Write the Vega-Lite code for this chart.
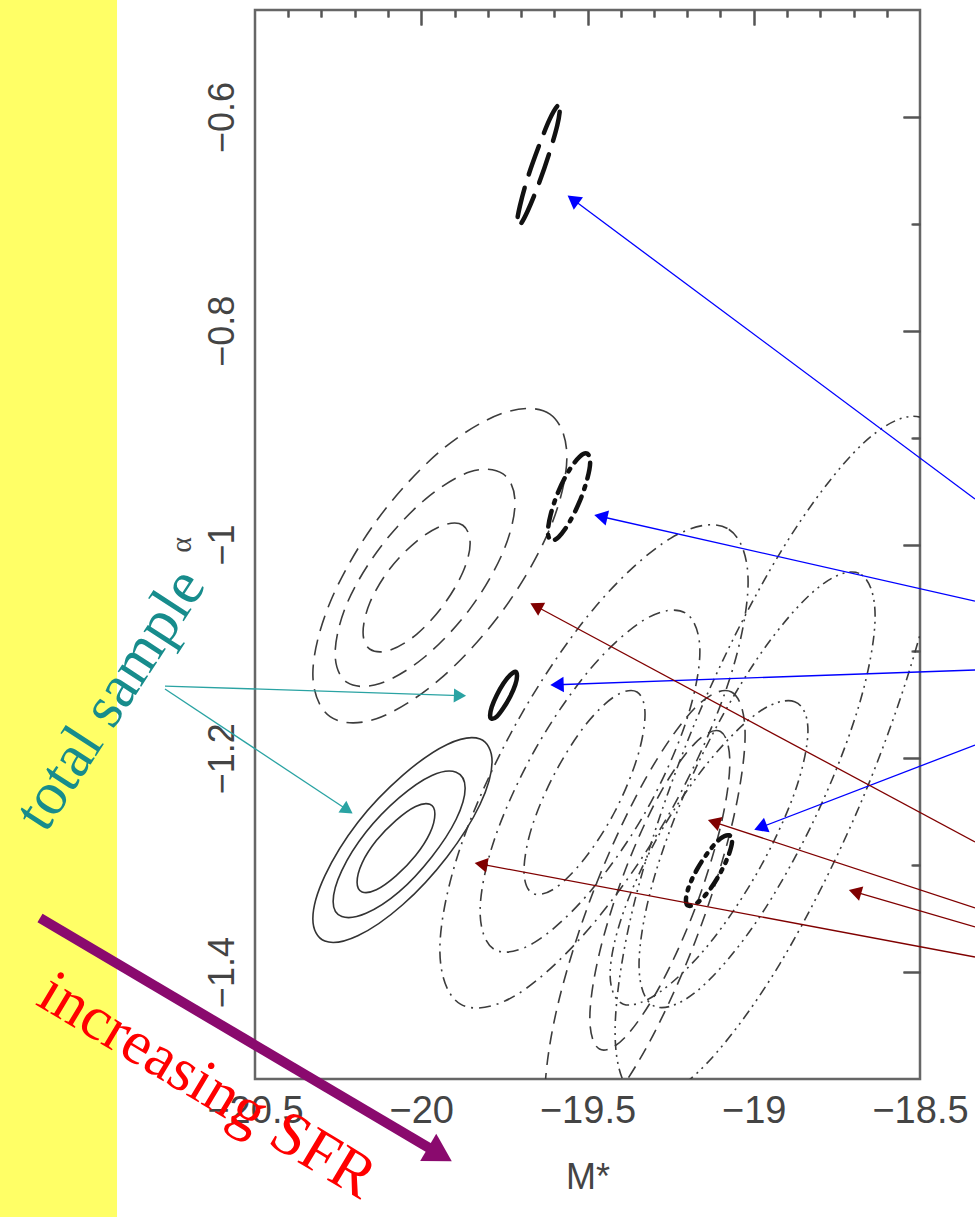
{
  "$schema": "https://vega.github.io/schema/vega-lite/v6.json",
  "width": 665,
  "height": 1069,
  "autosize": "none",
  "padding": {"left": 255, "top": 10, "right": 55, "bottom": 138},
  "background": "white",
  "config": {
    "view": {"stroke": "#666", "strokeWidth": 2.5},
    "axis": {"grid": false, "domain": false, "labelFont": "Liberation Sans", "titleFont": "Liberation Sans", "labelColor": "#444", "titleColor": "#444", "tickColor": "#555", "tickWidth": 2}
  },
  "datasets": {
    "ell": [
      {"c":"S1","g":"S","o":0,"x":-19.787,"y":-1.203},{"c":"S1","g":"S","o":1,"x":-19.823,"y":-1.182},{"c":"S1","g":"S","o":2,"x":-19.922,"y":-1.187},{"c":"S1","g":"S","o":3,"x":-20.056,"y":-1.216},{"c":"S1","g":"S","o":4,"x":-20.191,"y":-1.260},{"c":"S1","g":"S","o":5,"x":-20.290,"y":-1.310},{"c":"S1","g":"S","o":6,"x":-20.326,"y":-1.350},{"c":"S1","g":"S","o":7,"x":-20.290,"y":-1.371},{"c":"S1","g":"S","o":8,"x":-20.191,"y":-1.366},{"c":"S1","g":"S","o":9,"x":-20.056,"y":-1.337},{"c":"S1","g":"S","o":10,"x":-19.922,"y":-1.292},{"c":"S1","g":"S","o":11,"x":-19.823,"y":-1.243},
      {"c":"S2","g":"S","o":0,"x":-19.868,"y":-1.228},{"c":"S2","g":"S","o":1,"x":-19.895,"y":-1.213},{"c":"S2","g":"S","o":2,"x":-19.968,"y":-1.216},{"c":"S2","g":"S","o":3,"x":-20.067,"y":-1.237},{"c":"S2","g":"S","o":4,"x":-20.166,"y":-1.269},{"c":"S2","g":"S","o":5,"x":-20.239,"y":-1.305},{"c":"S2","g":"S","o":6,"x":-20.265,"y":-1.334},{"c":"S2","g":"S","o":7,"x":-20.239,"y":-1.348},{"c":"S2","g":"S","o":8,"x":-20.166,"y":-1.345},{"c":"S2","g":"S","o":9,"x":-20.067,"y":-1.325},{"c":"S2","g":"S","o":10,"x":-19.968,"y":-1.292},{"c":"S2","g":"S","o":11,"x":-19.895,"y":-1.257},
      {"c":"S3","g":"S","o":0,"x":-19.959,"y":-1.252},{"c":"S3","g":"S","o":1,"x":-19.974,"y":-1.243},{"c":"S3","g":"S","o":2,"x":-20.017,"y":-1.245},{"c":"S3","g":"S","o":3,"x":-20.076,"y":-1.258},{"c":"S3","g":"S","o":4,"x":-20.135,"y":-1.277},{"c":"S3","g":"S","o":5,"x":-20.178,"y":-1.298},{"c":"S3","g":"S","o":6,"x":-20.193,"y":-1.316},{"c":"S3","g":"S","o":7,"x":-20.178,"y":-1.325},{"c":"S3","g":"S","o":8,"x":-20.135,"y":-1.323},{"c":"S3","g":"S","o":9,"x":-20.076,"y":-1.310},{"c":"S3","g":"S","o":10,"x":-20.017,"y":-1.291},{"c":"S3","g":"S","o":11,"x":-19.974,"y":-1.270},
      {"c":"G1a","g":"G1","o":0,"x":-19.562,"y":-0.918},{"c":"G1a","g":"G1","o":1,"x":-19.613,"y":-0.878},{"c":"G1a","g":"G1","o":2,"x":-19.753,"y":-0.877},{"c":"G1a","g":"G1","o":3,"x":-19.944,"y":-0.913},{"c":"G1a","g":"G1","o":4,"x":-20.135,"y":-0.978},{"c":"G1a","g":"G1","o":5,"x":-20.274,"y":-1.054},{"c":"G1a","g":"G1","o":6,"x":-20.326,"y":-1.121},{"c":"G1a","g":"G1","o":7,"x":-20.274,"y":-1.161},{"c":"G1a","g":"G1","o":8,"x":-20.135,"y":-1.163},{"c":"G1a","g":"G1","o":9,"x":-19.944,"y":-1.126},{"c":"G1a","g":"G1","o":10,"x":-19.753,"y":-1.061},{"c":"G1a","g":"G1","o":11,"x":-19.613,"y":-0.985},
      {"c":"G1b","g":"G1","o":0,"x":-19.718,"y":-0.961},{"c":"G1b","g":"G1","o":1,"x":-19.754,"y":-0.934},{"c":"G1b","g":"G1","o":2,"x":-19.853,"y":-0.932},{"c":"G1b","g":"G1","o":3,"x":-19.989,"y":-0.958},{"c":"G1b","g":"G1","o":4,"x":-20.124,"y":-1.003},{"c":"G1b","g":"G1","o":5,"x":-20.223,"y":-1.055},{"c":"G1b","g":"G1","o":6,"x":-20.259,"y":-1.102},{"c":"G1b","g":"G1","o":7,"x":-20.223,"y":-1.129},{"c":"G1b","g":"G1","o":8,"x":-20.124,"y":-1.130},{"c":"G1b","g":"G1","o":9,"x":-19.989,"y":-1.105},{"c":"G1b","g":"G1","o":10,"x":-19.853,"y":-1.060},{"c":"G1b","g":"G1","o":11,"x":-19.754,"y":-1.007},
      {"c":"G1c","g":"G1","o":0,"x":-19.853,"y":-0.999},{"c":"G1c","g":"G1","o":1,"x":-19.875,"y":-0.982},{"c":"G1c","g":"G1","o":2,"x":-19.934,"y":-0.982},{"c":"G1c","g":"G1","o":3,"x":-20.014,"y":-0.997},{"c":"G1c","g":"G1","o":4,"x":-20.095,"y":-1.023},{"c":"G1c","g":"G1","o":5,"x":-20.154,"y":-1.054},{"c":"G1c","g":"G1","o":6,"x":-20.175,"y":-1.082},{"c":"G1c","g":"G1","o":7,"x":-20.154,"y":-1.098},{"c":"G1c","g":"G1","o":8,"x":-20.095,"y":-1.099},{"c":"G1c","g":"G1","o":9,"x":-20.014,"y":-1.084},{"c":"G1c","g":"G1","o":10,"x":-19.934,"y":-1.057},{"c":"G1c","g":"G1","o":11,"x":-19.875,"y":-1.026},
      {"c":"G2a","g":"G2","o":0,"x":-19.017,"y":-1.035},{"c":"G2a","g":"G2","o":1,"x":-19.079,"y":-0.985},{"c":"G2a","g":"G2","o":2,"x":-19.249,"y":-0.994},{"c":"G2a","g":"G2","o":3,"x":-19.481,"y":-1.060},{"c":"G2a","g":"G2","o":4,"x":-19.712,"y":-1.166},{"c":"G2a","g":"G2","o":5,"x":-19.882,"y":-1.283},{"c":"G2a","g":"G2","o":6,"x":-19.944,"y":-1.379},{"c":"G2a","g":"G2","o":7,"x":-19.882,"y":-1.430},{"c":"G2a","g":"G2","o":8,"x":-19.712,"y":-1.421},{"c":"G2a","g":"G2","o":9,"x":-19.481,"y":-1.354},{"c":"G2a","g":"G2","o":10,"x":-19.249,"y":-1.249},{"c":"G2a","g":"G2","o":11,"x":-19.079,"y":-1.132},
      {"c":"G2b","g":"G2","o":0,"x":-19.162,"y":-1.100},{"c":"G2b","g":"G2","o":1,"x":-19.206,"y":-1.064},{"c":"G2b","g":"G2","o":2,"x":-19.327,"y":-1.070},{"c":"G2b","g":"G2","o":3,"x":-19.493,"y":-1.117},{"c":"G2b","g":"G2","o":4,"x":-19.658,"y":-1.192},{"c":"G2b","g":"G2","o":5,"x":-19.779,"y":-1.275},{"c":"G2b","g":"G2","o":6,"x":-19.823,"y":-1.343},{"c":"G2b","g":"G2","o":7,"x":-19.779,"y":-1.379},{"c":"G2b","g":"G2","o":8,"x":-19.658,"y":-1.372},{"c":"G2b","g":"G2","o":9,"x":-19.493,"y":-1.325},{"c":"G2b","g":"G2","o":10,"x":-19.327,"y":-1.251},{"c":"G2b","g":"G2","o":11,"x":-19.206,"y":-1.168},
      {"c":"G2c","g":"G2","o":0,"x":-19.327,"y":-1.159},{"c":"G2c","g":"G2","o":1,"x":-19.351,"y":-1.138},{"c":"G2c","g":"G2","o":2,"x":-19.418,"y":-1.142},{"c":"G2c","g":"G2","o":3,"x":-19.509,"y":-1.170},{"c":"G2c","g":"G2","o":4,"x":-19.600,"y":-1.215},{"c":"G2c","g":"G2","o":5,"x":-19.667,"y":-1.264},{"c":"G2c","g":"G2","o":6,"x":-19.691,"y":-1.305},{"c":"G2c","g":"G2","o":7,"x":-19.667,"y":-1.326},{"c":"G2c","g":"G2","o":8,"x":-19.600,"y":-1.322},{"c":"G2c","g":"G2","o":9,"x":-19.509,"y":-1.294},{"c":"G2c","g":"G2","o":10,"x":-19.418,"y":-1.250},{"c":"G2c","g":"G2","o":11,"x":-19.351,"y":-1.200},
      {"c":"G3a","g":"G3","o":0,"x":-19.026,"y":-1.178},{"c":"G3a","g":"G3","o":1,"x":-19.067,"y":-1.138},{"c":"G3a","g":"G3","o":2,"x":-19.177,"y":-1.153},{"c":"G3a","g":"G3","o":3,"x":-19.327,"y":-1.220},{"c":"G3a","g":"G3","o":4,"x":-19.478,"y":-1.321},{"c":"G3a","g":"G3","o":5,"x":-19.588,"y":-1.429},{"c":"G3a","g":"G3","o":6,"x":-19.628,"y":-1.515},{"c":"G3a","g":"G3","o":7,"x":-19.588,"y":-1.556},{"c":"G3a","g":"G3","o":8,"x":-19.478,"y":-1.540},{"c":"G3a","g":"G3","o":9,"x":-19.327,"y":-1.473},{"c":"G3a","g":"G3","o":10,"x":-19.177,"y":-1.372},{"c":"G3a","g":"G3","o":11,"x":-19.067,"y":-1.264},
      {"c":"G3b","g":"G3","o":0,"x":-19.072,"y":-1.204},{"c":"G3b","g":"G3","o":1,"x":-19.100,"y":-1.175},{"c":"G3b","g":"G3","o":2,"x":-19.177,"y":-1.186},{"c":"G3b","g":"G3","o":3,"x":-19.282,"y":-1.233},{"c":"G3b","g":"G3","o":4,"x":-19.387,"y":-1.305},{"c":"G3b","g":"G3","o":5,"x":-19.464,"y":-1.382},{"c":"G3b","g":"G3","o":6,"x":-19.493,"y":-1.443},{"c":"G3b","g":"G3","o":7,"x":-19.464,"y":-1.472},{"c":"G3b","g":"G3","o":8,"x":-19.387,"y":-1.461},{"c":"G3b","g":"G3","o":9,"x":-19.282,"y":-1.413},{"c":"G3b","g":"G3","o":10,"x":-19.177,"y":-1.341},{"c":"G3b","g":"G3","o":11,"x":-19.100,"y":-1.264},
      {"c":"G4a","g":"G4","o":0,"x":-18.425,"y":-0.944},{"c":"G4a","g":"G4","o":1,"x":-18.491,"y":-0.882},{"c":"G4a","g":"G4","o":2,"x":-18.673,"y":-0.906},{"c":"G4a","g":"G4","o":3,"x":-18.921,"y":-1.008},{"c":"G4a","g":"G4","o":4,"x":-19.169,"y":-1.161},{"c":"G4a","g":"G4","o":5,"x":-19.351,"y":-1.325},{"c":"G4a","g":"G4","o":6,"x":-19.417,"y":-1.456},{"c":"G4a","g":"G4","o":7,"x":-19.351,"y":-1.517},{"c":"G4a","g":"G4","o":8,"x":-19.169,"y":-1.494},{"c":"G4a","g":"G4","o":9,"x":-18.921,"y":-1.392},{"c":"G4a","g":"G4","o":10,"x":-18.673,"y":-1.238},{"c":"G4a","g":"G4","o":11,"x":-18.491,"y":-1.074},
      {"c":"G4b","g":"G4","o":0,"x":-18.635,"y":-1.067},{"c":"G4b","g":"G4","o":1,"x":-18.683,"y":-1.027},{"c":"G4b","g":"G4","o":2,"x":-18.813,"y":-1.042},{"c":"G4b","g":"G4","o":3,"x":-18.990,"y":-1.107},{"c":"G4b","g":"G4","o":4,"x":-19.168,"y":-1.205},{"c":"G4b","g":"G4","o":5,"x":-19.298,"y":-1.310},{"c":"G4b","g":"G4","o":6,"x":-19.345,"y":-1.393},{"c":"G4b","g":"G4","o":7,"x":-19.298,"y":-1.432},{"c":"G4b","g":"G4","o":8,"x":-19.168,"y":-1.417},{"c":"G4b","g":"G4","o":9,"x":-18.990,"y":-1.352},{"c":"G4b","g":"G4","o":10,"x":-18.813,"y":-1.254},{"c":"G4b","g":"G4","o":11,"x":-18.683,"y":-1.150},
      {"c":"G4c","g":"G4","o":0,"x":-18.837,"y":-1.174},{"c":"G4c","g":"G4","o":1,"x":-18.877,"y":-1.147},{"c":"G4c","g":"G4","o":2,"x":-18.986,"y":-1.157},{"c":"G4c","g":"G4","o":3,"x":-19.135,"y":-1.203},{"c":"G4c","g":"G4","o":4,"x":-19.284,"y":-1.271},{"c":"G4c","g":"G4","o":5,"x":-19.392,"y":-1.344},{"c":"G4c","g":"G4","o":6,"x":-19.432,"y":-1.402},{"c":"G4c","g":"G4","o":7,"x":-19.392,"y":-1.430},{"c":"G4c","g":"G4","o":8,"x":-19.284,"y":-1.419},{"c":"G4c","g":"G4","o":9,"x":-19.135,"y":-1.374},{"c":"G4c","g":"G4","o":10,"x":-18.986,"y":-1.305},{"c":"G4c","g":"G4","o":11,"x":-18.877,"y":-1.232},
      {"c":"B1","g":"B1","o":0,"x":-19.583,"y":-0.592},{"c":"B1","g":"B1","o":1,"x":-19.591,"y":-0.590},{"c":"B1","g":"B1","o":2,"x":-19.615,"y":-0.603},{"c":"B1","g":"B1","o":3,"x":-19.647,"y":-0.628},{"c":"B1","g":"B1","o":4,"x":-19.680,"y":-0.657},{"c":"B1","g":"B1","o":5,"x":-19.703,"y":-0.683},{"c":"B1","g":"B1","o":6,"x":-19.712,"y":-0.699},{"c":"B1","g":"B1","o":7,"x":-19.703,"y":-0.701},{"c":"B1","g":"B1","o":8,"x":-19.680,"y":-0.688},{"c":"B1","g":"B1","o":9,"x":-19.647,"y":-0.663},{"c":"B1","g":"B1","o":10,"x":-19.615,"y":-0.634},{"c":"B1","g":"B1","o":11,"x":-19.591,"y":-0.608},
      {"c":"B2","g":"B2","o":0,"x":-19.492,"y":-0.923},{"c":"B2","g":"B2","o":1,"x":-19.501,"y":-0.915},{"c":"B2","g":"B2","o":2,"x":-19.524,"y":-0.918},{"c":"B2","g":"B2","o":3,"x":-19.556,"y":-0.931},{"c":"B2","g":"B2","o":4,"x":-19.587,"y":-0.950},{"c":"B2","g":"B2","o":5,"x":-19.610,"y":-0.971},{"c":"B2","g":"B2","o":6,"x":-19.619,"y":-0.988},{"c":"B2","g":"B2","o":7,"x":-19.610,"y":-0.996},{"c":"B2","g":"B2","o":8,"x":-19.587,"y":-0.993},{"c":"B2","g":"B2","o":9,"x":-19.556,"y":-0.980},{"c":"B2","g":"B2","o":10,"x":-19.524,"y":-0.960},{"c":"B2","g":"B2","o":11,"x":-19.501,"y":-0.939},
      {"c":"B3","g":"B3","o":0,"x":-19.712,"y":-1.123},{"c":"B3","g":"B3","o":1,"x":-19.717,"y":-1.119},{"c":"B3","g":"B3","o":2,"x":-19.732,"y":-1.122},{"c":"B3","g":"B3","o":3,"x":-19.753,"y":-1.130},{"c":"B3","g":"B3","o":4,"x":-19.773,"y":-1.141},{"c":"B3","g":"B3","o":5,"x":-19.788,"y":-1.152},{"c":"B3","g":"B3","o":6,"x":-19.793,"y":-1.160},{"c":"B3","g":"B3","o":7,"x":-19.788,"y":-1.163},{"c":"B3","g":"B3","o":8,"x":-19.773,"y":-1.161},{"c":"B3","g":"B3","o":9,"x":-19.753,"y":-1.153},{"c":"B3","g":"B3","o":10,"x":-19.732,"y":-1.142},{"c":"B3","g":"B3","o":11,"x":-19.717,"y":-1.131},
      {"c":"B4","g":"B4","o":0,"x":-19.065,"y":-1.277},{"c":"B4","g":"B4","o":1,"x":-19.075,"y":-1.272},{"c":"B4","g":"B4","o":2,"x":-19.100,"y":-1.275},{"c":"B4","g":"B4","o":3,"x":-19.135,"y":-1.287},{"c":"B4","g":"B4","o":4,"x":-19.169,"y":-1.303},{"c":"B4","g":"B4","o":5,"x":-19.195,"y":-1.320},{"c":"B4","g":"B4","o":6,"x":-19.204,"y":-1.333},{"c":"B4","g":"B4","o":7,"x":-19.195,"y":-1.338},{"c":"B4","g":"B4","o":8,"x":-19.169,"y":-1.335},{"c":"B4","g":"B4","o":9,"x":-19.135,"y":-1.324},{"c":"B4","g":"B4","o":10,"x":-19.100,"y":-1.307},{"c":"B4","g":"B4","o":11,"x":-19.075,"y":-1.290}
    ],
    "arr": [
      {"k":"blue","x":-18.3346,"y":-0.9574,"x2":-19.5436,"y2":-0.6773,"a":216.7},
      {"k":"blue","x":-18.3346,"y":-1.0529,"x2":-19.46,"y2":-0.9738,"a":192.7},
      {"k":"blue","x":-18.3346,"y":-1.1174,"x2":-19.5917,"y2":-1.1312,"a":178},
      {"k":"blue","x":-18.3346,"y":-1.1876,"x2":-18.9797,"y2":-1.2647,"a":159},
      {"k":"red","x":-18.3346,"y":-1.2783,"x2":-19.6549,"y2":-1.0578,"a":208.2},
      {"k":"red","x":-18.3346,"y":-1.34,"x2":-19.1195,"y2":-1.2596,"a":198.2},
      {"k":"red","x":-18.3346,"y":-1.3578,"x2":-18.6955,"y2":-1.3249,"a":196.4},
      {"k":"red","x":-18.3346,"y":-1.3859,"x2":-19.8203,"y2":-1.299,"a":190.6},
      {"k":"teal","x":-20.7707,"y":-1.1324,"x2":-19.8835,"y2":-1.1414,"a":1.9},
      {"k":"teal","x":-20.7707,"y":-1.1352,"x2":-20.2218,"y2":-1.2484,"a":33.6}
    ],
    "sfr": [
      {"x":-21.1466,"y":-1.3494,"x2":-19.9436,"y2":-1.5705,"a":30.6}
    ]
  },
  "resolve": {"axis": {"x": "independent", "y": "independent"}},
  "layer": [
    {
      "data": {"values": [{"x": -21.27, "x2": -20.915, "y": -0.48, "y2": -1.64}]},
      "mark": {"type": "rect", "color": "#ffff66"},
      "encoding": {
        "x": {"field": "x", "type": "quantitative", "scale": {"domain": [-20.5, -18.5], "nice": false, "zero": false},
              "axis": {"values": [-20.5, -20, -19.5, -19, -18.5], "format": "~g", "ticks": false, "labelFontSize": 38, "labelPadding": 13, "labelFlush": false, "labelOverlap": false, "title": "M*", "titleFontSize": 36, "titleFontWeight": "normal", "titlePadding": 30}},
        "x2": {"field": "x2"},
        "y": {"field": "y", "type": "quantitative", "scale": {"domain": [-1.5, -0.5], "nice": false, "zero": false},
              "axis": {"values": [-1.4, -1.2, -1, -0.8, -0.6], "format": "~g", "ticks": false, "labelFontSize": 36, "labelAngle": -90, "labelAlign": "center", "labelBaseline": "bottom", "labelPadding": 14, "labelOverlap": false, "labelFlush": false, "title": "α", "titleFont": "Liberation Serif", "titleFontSize": 30, "titleFontWeight": "normal", "titlePadding": 8}},
        "y2": {"field": "y2"}
      }
    },
    {
      "data": {"name": "ell"},
      "transform": [{"filter": "datum.g === 'S'"}],
      "mark": {"type": "line", "interpolate": "cardinal-closed", "color": "#333", "strokeWidth": 1.6, "clip": true},
      "encoding": {
        "x": {"field": "x", "type": "quantitative", "scale": {"domain": [-20.5, -18.5], "nice": false, "zero": false},
              "axis": {"values": [-20, -19.5, -19], "labels": false, "tickSize": -15, "title": null}},
        "y": {"field": "y", "type": "quantitative", "scale": {"domain": [-1.5, -0.5], "nice": false, "zero": false},
              "axis": {"values": [-1.4, -1.2, -1, -0.8, -0.6], "labels": false, "tickSize": -17, "title": null}},
        "detail": {"field": "c"},
        "order": {"field": "o"}
      }
    },
    {
      "data": {"name": "ell"},
      "transform": [{"filter": "datum.g === 'G1'"}],
      "mark": {"type": "line", "interpolate": "cardinal-closed", "color": "#3c3c3c", "strokeWidth": 1.6, "strokeDash": [16, 9], "clip": true},
      "encoding": {
        "x": {"field": "x", "type": "quantitative", "scale": {"domain": [-20.5, -18.5], "nice": false, "zero": false},
              "axis": {"values": [-20.4, -20.3, -20.2, -20.1, -19.9, -19.8, -19.7, -19.6, -19.4, -19.3, -19.2, -19.1, -18.9, -18.8, -18.7, -18.6], "labels": false, "tickSize": -7, "title": null}},
        "y": {"field": "y", "type": "quantitative", "scale": {"domain": [-1.5, -0.5], "nice": false, "zero": false},
              "axis": {"values": [-1.3, -1.1, -0.9, -0.7], "labels": false, "tickSize": -9, "title": null}},
        "detail": {"field": "c"},
        "order": {"field": "o"}
      }
    },
    {
      "data": {"name": "ell"},
      "transform": [{"filter": "datum.g === 'G2'"}],
      "mark": {"type": "line", "interpolate": "cardinal-closed", "color": "#3c3c3c", "strokeWidth": 1.6, "strokeDash": [12, 6, 2, 6], "clip": true},
      "encoding": {
        "x": {"field": "x", "type": "quantitative", "scale": {"domain": [-20.5, -18.5], "nice": false, "zero": false},
              "axis": {"orient": "top", "values": [-20, -19.5, -19], "labels": false, "tickSize": -15, "title": null}},
        "y": {"field": "y", "type": "quantitative", "scale": {"domain": [-1.5, -0.5], "nice": false, "zero": false},
              "axis": {"orient": "right", "values": [-1.4, -1.2, -1, -0.8, -0.6], "labels": false, "tickSize": -17, "title": null}},
        "detail": {"field": "c"},
        "order": {"field": "o"}
      }
    },
    {
      "data": {"name": "ell"},
      "transform": [{"filter": "datum.g === 'G3'"}],
      "mark": {"type": "line", "interpolate": "cardinal-closed", "color": "#3c3c3c", "strokeWidth": 1.6, "strokeDash": [13, 8], "clip": true},
      "encoding": {
        "x": {"field": "x", "type": "quantitative", "scale": {"domain": [-20.5, -18.5], "nice": false, "zero": false}, "axis": null},
        "y": {"field": "y", "type": "quantitative", "scale": {"domain": [-1.5, -0.5], "nice": false, "zero": false}, "axis": null},
        "detail": {"field": "c"},
        "order": {"field": "o"}
      }
    },
    {
      "data": {"name": "ell"},
      "transform": [{"filter": "datum.g === 'G4'"}],
      "mark": {"type": "line", "interpolate": "cardinal-closed", "color": "#3c3c3c", "strokeWidth": 1.6, "strokeDash": [10, 5, 2, 5, 2, 5], "clip": true},
      "encoding": {
        "x": {"field": "x", "type": "quantitative", "scale": {"domain": [-20.5, -18.5], "nice": false, "zero": false},
              "axis": {"orient": "top", "values": [-20.4, -20.3, -20.2, -20.1, -19.9, -19.8, -19.7, -19.6, -19.4, -19.3, -19.2, -19.1, -18.9, -18.8, -18.7, -18.6], "labels": false, "tickSize": -7, "title": null}},
        "y": {"field": "y", "type": "quantitative", "scale": {"domain": [-1.5, -0.5], "nice": false, "zero": false},
              "axis": {"orient": "right", "values": [-1.3, -1.1, -0.9, -0.7], "labels": false, "tickSize": -8, "title": null}},
        "detail": {"field": "c"},
        "order": {"field": "o"}
      }
    },
    {
      "data": {"name": "ell"},
      "transform": [{"filter": "datum.g === 'B1'"}],
      "mark": {"type": "line", "interpolate": "cardinal-closed", "color": "#111", "strokeWidth": 4.5, "strokeDash": [30, 14], "strokeCap": "round", "clip": true},
      "encoding": {
        "x": {"field": "x", "type": "quantitative", "scale": {"domain": [-20.5, -18.5], "nice": false, "zero": false}, "axis": null},
        "y": {"field": "y", "type": "quantitative", "scale": {"domain": [-1.5, -0.5], "nice": false, "zero": false}, "axis": null},
        "detail": {"field": "c"},
        "order": {"field": "o"}
      }
    },
    {
      "data": {"name": "ell"},
      "transform": [{"filter": "datum.g === 'B2'"}],
      "mark": {"type": "line", "interpolate": "cardinal-closed", "color": "#111", "strokeWidth": 4.5, "strokeDash": [16, 8, 3, 8], "strokeCap": "round", "clip": true},
      "encoding": {
        "x": {"field": "x", "type": "quantitative", "scale": {"domain": [-20.5, -18.5], "nice": false, "zero": false}, "axis": null},
        "y": {"field": "y", "type": "quantitative", "scale": {"domain": [-1.5, -0.5], "nice": false, "zero": false}, "axis": null},
        "detail": {"field": "c"},
        "order": {"field": "o"}
      }
    },
    {
      "data": {"name": "ell"},
      "transform": [{"filter": "datum.g === 'B3'"}],
      "mark": {"type": "line", "interpolate": "cardinal-closed", "color": "#111", "strokeWidth": 4.5, "clip": true},
      "encoding": {
        "x": {"field": "x", "type": "quantitative", "scale": {"domain": [-20.5, -18.5], "nice": false, "zero": false}, "axis": null},
        "y": {"field": "y", "type": "quantitative", "scale": {"domain": [-1.5, -0.5], "nice": false, "zero": false}, "axis": null},
        "detail": {"field": "c"},
        "order": {"field": "o"}
      }
    },
    {
      "data": {"name": "ell"},
      "transform": [{"filter": "datum.g === 'B4'"}],
      "mark": {"type": "line", "interpolate": "cardinal-closed", "color": "#111", "strokeWidth": 4.5, "strokeDash": [12, 7, 3, 7, 3, 7], "strokeCap": "round", "clip": true},
      "encoding": {
        "x": {"field": "x", "type": "quantitative", "scale": {"domain": [-20.5, -18.5], "nice": false, "zero": false}, "axis": null},
        "y": {"field": "y", "type": "quantitative", "scale": {"domain": [-1.5, -0.5], "nice": false, "zero": false}, "axis": null},
        "detail": {"field": "c"},
        "order": {"field": "o"}
      }
    },
    {
      "data": {"name": "arr"},
      "mark": {"type": "rule", "strokeWidth": 1.3},
      "encoding": {
        "x": {"field": "x", "type": "quantitative", "scale": {"domain": [-20.5, -18.5], "nice": false, "zero": false}, "axis": null},
        "y": {"field": "y", "type": "quantitative", "scale": {"domain": [-1.5, -0.5], "nice": false, "zero": false}, "axis": null},
        "x2": {"field": "x2"},
        "y2": {"field": "y2"},
        "color": {"field": "k", "type": "nominal", "scale": {"domain": ["blue", "red", "teal"], "range": ["#0000ff", "#800000", "#2aa3a3"]}, "legend": null}
      }
    },
    {
      "data": {"name": "arr"},
      "mark": {"type": "point", "shape": "triangle-right", "filled": true, "opacity": 1, "strokeWidth": 0},
      "encoding": {
        "x": {"field": "x2", "type": "quantitative", "scale": {"domain": [-20.5, -18.5], "nice": false, "zero": false}, "axis": null},
        "y": {"field": "y2", "type": "quantitative", "scale": {"domain": [-1.5, -0.5], "nice": false, "zero": false}, "axis": null},
        "angle": {"field": "a", "type": "quantitative", "scale": null},
        "size": {"field": "k", "type": "nominal", "scale": {"domain": ["blue", "red", "teal"], "range": [240, 200, 300]}, "legend": null},
        "color": {"field": "k", "type": "nominal", "scale": {"domain": ["blue", "red", "teal"], "range": ["#0000ff", "#800000", "#2aa3a3"]}, "legend": null}
      }
    },
    {
      "data": {"name": "sfr"},
      "mark": {"type": "rule", "strokeWidth": 10, "color": "#8a0a6e"},
      "encoding": {
        "x": {"field": "x", "type": "quantitative", "scale": {"domain": [-20.5, -18.5], "nice": false, "zero": false}, "axis": null},
        "y": {"field": "y", "type": "quantitative", "scale": {"domain": [-1.5, -0.5], "nice": false, "zero": false}, "axis": null},
        "x2": {"field": "x2"},
        "y2": {"field": "y2"}
      }
    },
    {
      "data": {"name": "sfr"},
      "mark": {"type": "point", "shape": "triangle-right", "filled": true, "opacity": 1, "strokeWidth": 0, "size": 1000, "color": "#8a0a6e"},
      "encoding": {
        "x": {"field": "x2", "type": "quantitative", "scale": {"domain": [-20.5, -18.5], "nice": false, "zero": false}, "axis": null},
        "y": {"field": "y2", "type": "quantitative", "scale": {"domain": [-1.5, -0.5], "nice": false, "zero": false}, "axis": null},
        "angle": {"field": "a", "type": "quantitative", "scale": null}
      }
    },
    {
      "data": {"values": [{"t": "total sample", "x": -20.933, "y": -1.1454}]},
      "mark": {"type": "text", "angle": -57, "font": "Liberation Serif", "fontSize": 61, "color": "#178c8c", "align": "center", "baseline": "middle"},
      "encoding": {
        "x": {"field": "x", "type": "quantitative", "scale": {"domain": [-20.5, -18.5], "nice": false, "zero": false}, "axis": null},
        "y": {"field": "y", "type": "quantitative", "scale": {"domain": [-1.5, -0.5], "nice": false, "zero": false}, "axis": null},
        "text": {"field": "t"}
      }
    },
    {
      "data": {"values": [{"t": "increasing SFR", "x": -20.644, "y": -1.506}]},
      "mark": {"type": "text", "angle": 31, "font": "Liberation Serif", "fontSize": 62, "color": "#ff0000", "align": "center", "baseline": "middle"},
      "encoding": {
        "x": {"field": "x", "type": "quantitative", "scale": {"domain": [-20.5, -18.5], "nice": false, "zero": false}, "axis": null},
        "y": {"field": "y", "type": "quantitative", "scale": {"domain": [-1.5, -0.5], "nice": false, "zero": false}, "axis": null},
        "text": {"field": "t"}
      }
    }
  ]
}
